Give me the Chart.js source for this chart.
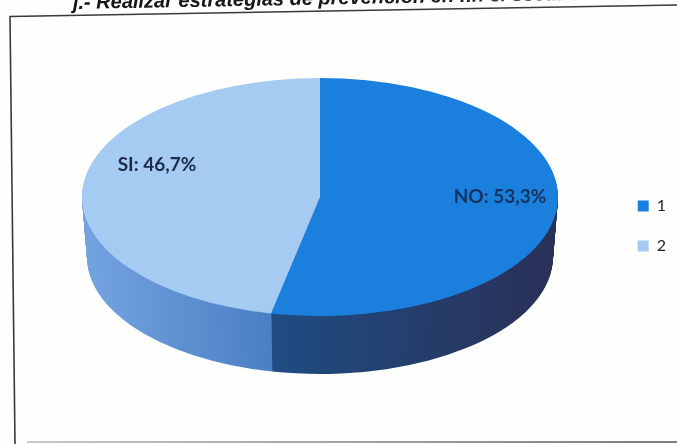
<!DOCTYPE html>
<html>
<head>
<meta charset="utf-8">
<style>
  html, body { margin: 0; padding: 0; background: #fefefd; overflow: hidden; }
  #wrap { position: relative; width: 677px; height: 444px; }
</style>
<script src="https://cdn.jsdelivr.net/npm/chart.js@4"></script>
</head>
<body>
<div id="wrap"><canvas id="myChart" width="677" height="444"></canvas></div>
<script>
// data
const categories = ["1", "2"];
const answers = ["NO", "SI"];
const percents = [53.3, 46.7];
const titleText = "j.- Realizar estrategias de prevención en fin el secundario";

const topColors = ["#1b7fdd", "#a6cbf3"];
const sideColors = [
  ["#1f4c82", "#2a3057"],
  ["#74a3e0", "#4a7fc4"],
];

// where the tilted pie sits on the page
const pie3d = { cx: 320, cy: 197, rx: 238, ry: 119, depth: 60, shrinkX: 5, shrinkY: 2 };
const labelSpots = [
  { x: 500, y: 197, color: "#17335f" },
  { x: 157, y: 165, color: "#1d2c48" },
];

function placeArc(ctx, arc, dy, rx, ry) {
  ctx.translate(pie3d.cx, pie3d.cy + dy);
  ctx.scale(rx / arc.outerRadius, ry / arc.outerRadius);
  ctx.translate(-arc.x, -arc.y);
}

// sides of the pie, deepest layer first, then the top squashed to an ellipse
const tiltPlugin = {
  id: "tilt",
  beforeDatasetDraw(chart) {
    const ctx = chart.ctx;
    const arcs = chart.getDatasetMeta(0).data;
    for (let d = pie3d.depth; d >= 1; d--) {
      const t = d / pie3d.depth;
      const rx = pie3d.rx - pie3d.shrinkX * t;
      const ry = pie3d.ry - pie3d.shrinkY * t;
      arcs.forEach((arc, i) => {
        const original = arc.options;
        ctx.save();
        placeArc(ctx, arc, d, rx, ry);
        const from = i === 0 ? arc.x - arc.outerRadius * 0.2 : arc.x - arc.outerRadius;
        const to = i === 0 ? arc.x + arc.outerRadius : arc.x - arc.outerRadius * 0.2;
        const grad = ctx.createLinearGradient(from, 0, to, 0);
        grad.addColorStop(0, sideColors[i][0]);
        grad.addColorStop(1, sideColors[i][1]);
        arc.options = Object.assign({}, original, { backgroundColor: grad });
        arc.draw(ctx);
        arc.options = original;
        ctx.restore();
      });
    }
    ctx.save();
    placeArc(ctx, arcs[0], 0, pie3d.rx, pie3d.ry);
  },
  afterDatasetDraw(chart) {
    const ctx = chart.ctx;
    ctx.restore();

    // value labels
    ctx.save();
    ctx.font = "bold 19px Lato";
    ctx.textAlign = "center";
    ctx.textBaseline = "middle";
    answers.forEach((name, i) => {
      ctx.fillStyle = labelSpots[i].color;
      ctx.fillText(name + ": " + String(percents[i]).replace(".", ",") + "%", labelSpots[i].x, labelSpots[i].y);
    });
    ctx.restore();
  },
};

// scanned frame and the heading cut off by the page edge
const framePlugin = {
  id: "frame",
  beforeDraw(chart) {
    const ctx = chart.ctx;
    ctx.save();
    ctx.lineWidth = 1.6;
    ctx.strokeStyle = "#3a3a3a";
    ctx.beginPath();
    ctx.moveTo(677, 5);
    ctx.lineTo(10, 16.5);
    ctx.lineTo(15, 444);
    ctx.stroke();
    ctx.lineWidth = 2;
    const bottom = ctx.createLinearGradient(27, 0, 677, 0);
    bottom.addColorStop(0, "#c8c8c8");
    bottom.addColorStop(1, "#7c7c7c");
    ctx.strokeStyle = bottom;
    ctx.beginPath();
    ctx.moveTo(27, 442);
    ctx.lineTo(677, 442);
    ctx.stroke();

    ctx.translate(73, 9);
    ctx.rotate(-0.018);
    ctx.font = "italic bold 20px 'Liberation Sans'";
    const ink = ctx.createLinearGradient(0, 0, 540, 0);
    ink.addColorStop(0, "#141414");
    ink.addColorStop(0.72, "#1c1c1c");
    ink.addColorStop(1, "#b0b0b0");
    ctx.fillStyle = ink;
    ctx.textBaseline = "alphabetic";
    ctx.fillText(titleText, 0, 0);
    ctx.restore();
  },
};

const config = {
  type: "pie",
  data: {
    labels: categories,
    datasets: [
      {
        data: percents,
        backgroundColor: topColors,
        borderWidth: 0,
      },
    ],
  },
  plugins: [framePlugin, tiltPlugin],
  options: {
    responsive: false,
    animation: false,
    layout: { padding: { top: 8, right: 1, bottom: 0, left: 0 } },
    plugins: {
      tooltip: { enabled: false },
      legend: {
        position: "right",
        labels: {
          boxWidth: 11,
          boxHeight: 11,
          padding: 24,
          color: "#222222",
          font: { family: "Lato", size: 16 },
        },
      },
    },
  },
};

const myChart = new Chart(document.getElementById("myChart"), config);
</script>
</body>
</html>
